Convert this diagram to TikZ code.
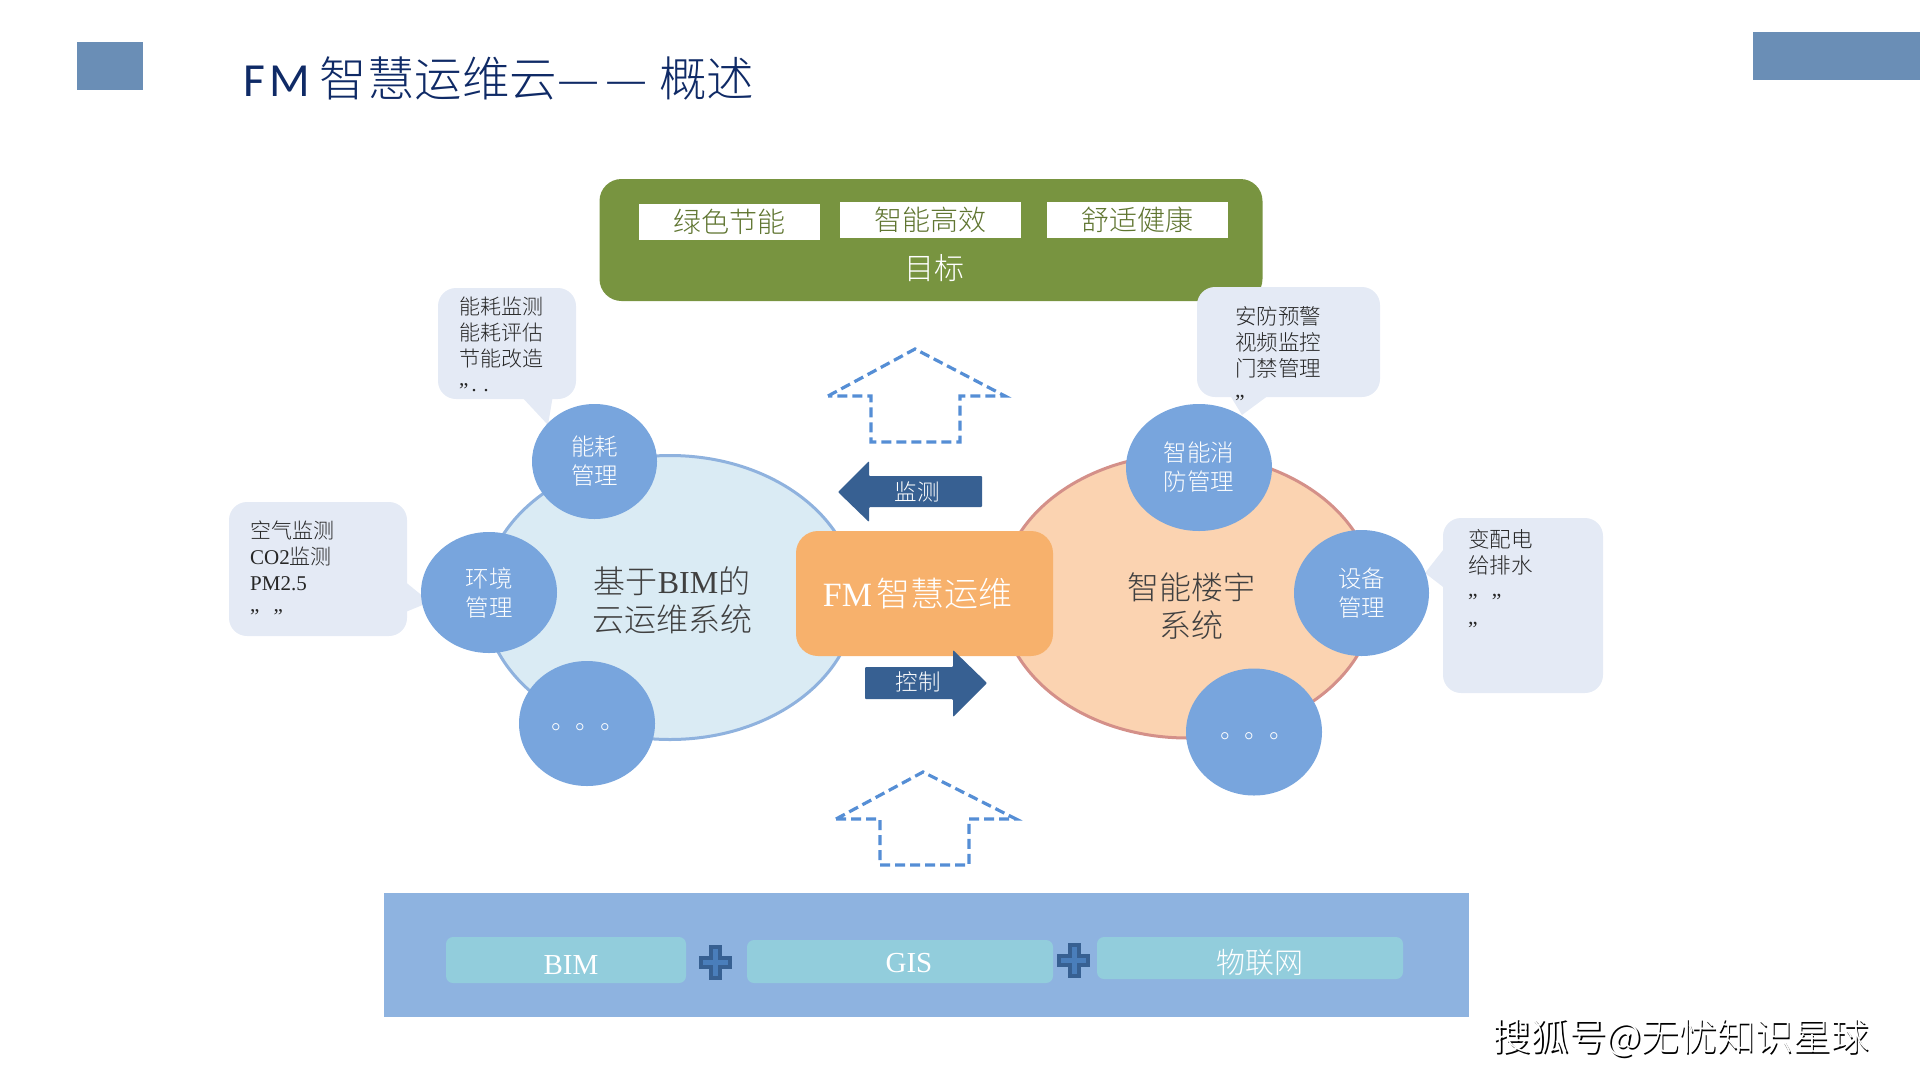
\documentclass[tikz,border=0pt]{standalone}
\usepackage{fontspec}
\usetikzlibrary{shapes.geometric}
\setmainfont{Noto Sans CJK SC Light}
\newfontfamily\lat{Liberation Serif}
\newfontfamily\carl{Carlito}
\definecolor{cornerblue}{HTML}{6A8EB6}
\definecolor{titlenavy}{HTML}{0F2A66}
\definecolor{goalgreen}{HTML}{789440}
\definecolor{goaltext}{HTML}{5F7530}
\definecolor{bubble}{HTML}{E4EAF5}
\definecolor{bubtext}{HTML}{262626}
\definecolor{discblue}{HTML}{78A5DD}
\definecolor{lakefill}{HTML}{DAEBF4}
\definecolor{lakeline}{HTML}{8FB2DE}
\definecolor{peachfill}{HTML}{FBD3B1}
\definecolor{peachline}{HTML}{D49089}
\definecolor{fmorange}{HTML}{F7B16C}
\definecolor{arrowblue}{HTML}{376092}
\definecolor{dashblue}{HTML}{558ED5}
\definecolor{bandblue}{HTML}{8EB3E0}
\definecolor{tilecyan}{HTML}{92CDDC}
\definecolor{plusblue}{HTML}{4A7EBB}
\definecolor{darktext}{HTML}{404040}
\tikzset{
 bubblebox/.style={fill=bubble,rounded corners=18pt,inner sep=0pt},
 bubbletail/.style={fill=bubble},
 bubbletext/.style={anchor=north west,inner sep=0pt,align=left,text=bubtext,font=\fontsize{21}{25.9}\selectfont},
 disc/.style={ellipse,fill=discblue,inner sep=0pt,text=white,align=center,font=\fontsize{23.5}{29}\selectfont},
 bigoval/.style={ellipse,inner sep=0pt,line width=3pt},
 systext/.style={inner sep=0pt,align=center,text=darktext,font=\fontsize{32}{38}\selectfont},
 goaltile/.style={fill=white,inner sep=0pt,text=goaltext,font=\fontsize{28}{30}\selectfont},
 hollowarrow/.style={draw=dashblue,line width=3.2pt,dash pattern=on 10pt off 5pt,miter limit=10},
 solidarrow/.style={fill=arrowblue,rounded corners=1pt},
 arrowtext/.style={inner sep=0pt,text=white,font=\fontsize{22.5}{25}\selectfont},
 basetile/.style={fill=tilecyan,rounded corners=7pt,inner sep=0pt},
 basetext/.style={inner sep=0pt,text=white,font=\fontsize{29}{32}\selectfont},
 plusmark/.style={fill=plusblue,draw=arrowblue,line width=3.5pt},
}
\begin{document}
\begin{tikzpicture}[x=1pt,y=-1pt]
\useasboundingbox (0,0) rectangle (1920,1080);
% corners and title
\fill[cornerblue] (77,42) rectangle (143,90);
\fill[cornerblue] (1753,32) rectangle (1920,80);
\node[anchor=west,inner sep=0pt,text=titlenavy,font=\fontsize{47.5}{50}\selectfont] (title) at (243,78)
 {{\carl F\kern5pt M}\kern9pt 智慧运维云—\kern6pt—\kern12pt 概述};
% goal panel
\node[fill=goalgreen,rounded corners=22pt,minimum width=663pt,minimum height=122pt,inner sep=0pt] (goal) at (931,240) {};
\node[goaltile,minimum width=181pt,minimum height=36pt] (g1) at (729.5,222) {绿色节能};
\node[goaltile,minimum width=181pt,minimum height=36pt] (g2) at (930.5,220) {智能高效};
\node[goaltile,minimum width=181pt,minimum height=36pt] (g3) at (1137.5,220) {舒适健康};
\node[inner sep=0pt,text=white,font=\fontsize{30}{32}\selectfont] (goaltitle) at (934,268) {目标};
% hollow arrows
\draw[hollowarrow] (828,396) -- (915,349) -- (1005,396) -- (960,396) -- (960,442) -- (871,442) -- (871,396) -- cycle;
\draw[hollowarrow] (836,819) -- (923,772) -- (1016,819) -- (969,819) -- (969,865) -- (880,865) -- (880,819) -- cycle;
% ovals
\node[bigoval,fill=lakefill,draw=lakeline,minimum width=372pt,minimum height=284pt] (lake) at (670,597.5) {};
\node[bigoval,fill=peachfill,draw=peachline,minimum width=374pt,minimum height=284pt] (peach) at (1187.5,596) {};
\node[systext] (lakelabel) at (672,600) {基于{\lat BIM}的\\云运维系统};
\node[systext] (peachlabel) at (1191,606) {智能楼宇\\系统};
% callout bubbles
\fill[bubbletail] (520,395) -- (553,395) -- (548,425) -- cycle;
\node[bubblebox,minimum width=138pt,minimum height=111pt] (b1) at (507,343.5) {};
\fill[bubbletail] (403,580) -- (403,613) -- (430,602) -- cycle;
\node[bubblebox,minimum width=178pt,minimum height=134pt] (b2) at (318,569) {};
\fill[bubbletail] (1228,392) -- (1273,392) -- (1242,415) -- cycle;
\node[bubblebox,minimum width=183pt,minimum height=110pt] (b3) at (1288.5,342) {};
\fill[bubbletail] (1447,545) -- (1447,590) -- (1425,573) -- cycle;
\node[bubblebox,minimum width=160pt,minimum height=175pt] (b4) at (1523,605.5) {};
\node[bubbletext] (t1) at (459,297) {能耗监测\\能耗评估\\节能改造\\[5pt]{\lat ”\kern2pt·\kern5pt·}};
\node[bubbletext] (t2) at (250,521) {空气监测\\{\lat CO2}监测\\{\lat PM2.5}\\[7pt]{\lat ”\kern14pt”}};
\node[bubbletext,font=\fontsize{21.5}{26.2}\selectfont] (t3) at (1235,306) {安防预警\\视频监控\\门禁管理\\[7pt]{\lat ”}};
\node[bubbletext,font=\fontsize{21.5}{26.5}\selectfont] (t4) at (1468,529) {变配电\\给排水\\[8pt]{\lat ”\kern14pt”}\\[2pt]{\lat ”}};
% discs
\node[disc,minimum width=125pt,minimum height=115pt] (d1) at (594.5,461.5) {能耗\\管理};
\node[disc,minimum width=136pt,minimum height=121pt] (d2) at (489,592.5) {环境\\管理};
\node[disc,minimum width=136pt,minimum height=125pt] (d3) at (587,723.5) {\fontsize{24.5}{26}\selectfont\raisebox{-6pt}[0pt][0pt]{\kern2pt。。。}};
\node[disc,minimum width=146pt,minimum height=127pt] (d4) at (1199,467.5) {智能消\\防管理};
\node[disc,minimum width=135pt,minimum height=126pt] (d5) at (1361.5,593) {设备\\管理};
\node[disc,minimum width=136pt,minimum height=127pt] (d6) at (1254,732) {\fontsize{24.5}{26}\selectfont\raisebox{-6pt}[0pt][0pt]{\kern6pt。。。}};
% centre
\node[fill=fmorange,rounded corners=22pt,minimum width=257pt,minimum height=125pt,inner sep=0pt,text=white,font=\fontsize{34}{38}\selectfont] (fm) at (924.5,593.5) {{\lat FM}\kern4pt智慧运维\kern14pt};
\fill[solidarrow] (838,492) -- (869,461) -- (869,476) -- (982,476) -- (982,507) -- (869,507) -- (869,522) -- cycle;
\node[arrowtext] (monitor) at (917,492) {监测};
\fill[solidarrow] (865,667) -- (953,667) -- (953,650) -- (987,683) -- (953,717) -- (953,699) -- (865,699) -- cycle;
\node[arrowtext] (control) at (918,682) {控制};
% base band
\fill[bandblue] (384,893) rectangle (1469,1017);
\node[basetile,minimum width=240pt,minimum height=46pt] (bim) at (566,960) {};
\node[basetile,minimum width=306pt,minimum height=43pt] (gis) at (900,961.5) {};
\node[basetile,minimum width=306pt,minimum height=42pt] (iot) at (1250,958) {};
\node[basetext,font=\lat\fontsize{29}{32}\selectfont] (bimt) at (571,965) {BIM};
\node[basetext,font=\lat\fontsize{29}{32}\selectfont] (gist) at (909,963) {GIS};
\node[basetext] (iott) at (1260,963) {物联网};
\draw[plusmark] (711,947) -- (720,947) -- (720,958) -- (730,958) -- (730,967) -- (720,967) -- (720,978) -- (711,978) -- (711,967) -- (701,967) -- (701,958) -- (711,958) -- cycle;
\draw[plusmark] (1070,945) -- (1079,945) -- (1079,956) -- (1088,956) -- (1088,965) -- (1079,965) -- (1079,976) -- (1070,976) -- (1070,965) -- (1059,965) -- (1059,956) -- (1070,956) -- cycle;
% watermark
\node[inner sep=0pt,text=black,font=\fontsize{38}{40}\selectfont] (markshadow) at (1682.5,1039.5) {搜狐号@无忧知识星球};
\node[inner sep=0pt,text=white,font=\fontsize{38}{40}\selectfont] (mark) at (1681,1038) {搜狐号@无忧知识星球};
\end{tikzpicture}
\end{document}
